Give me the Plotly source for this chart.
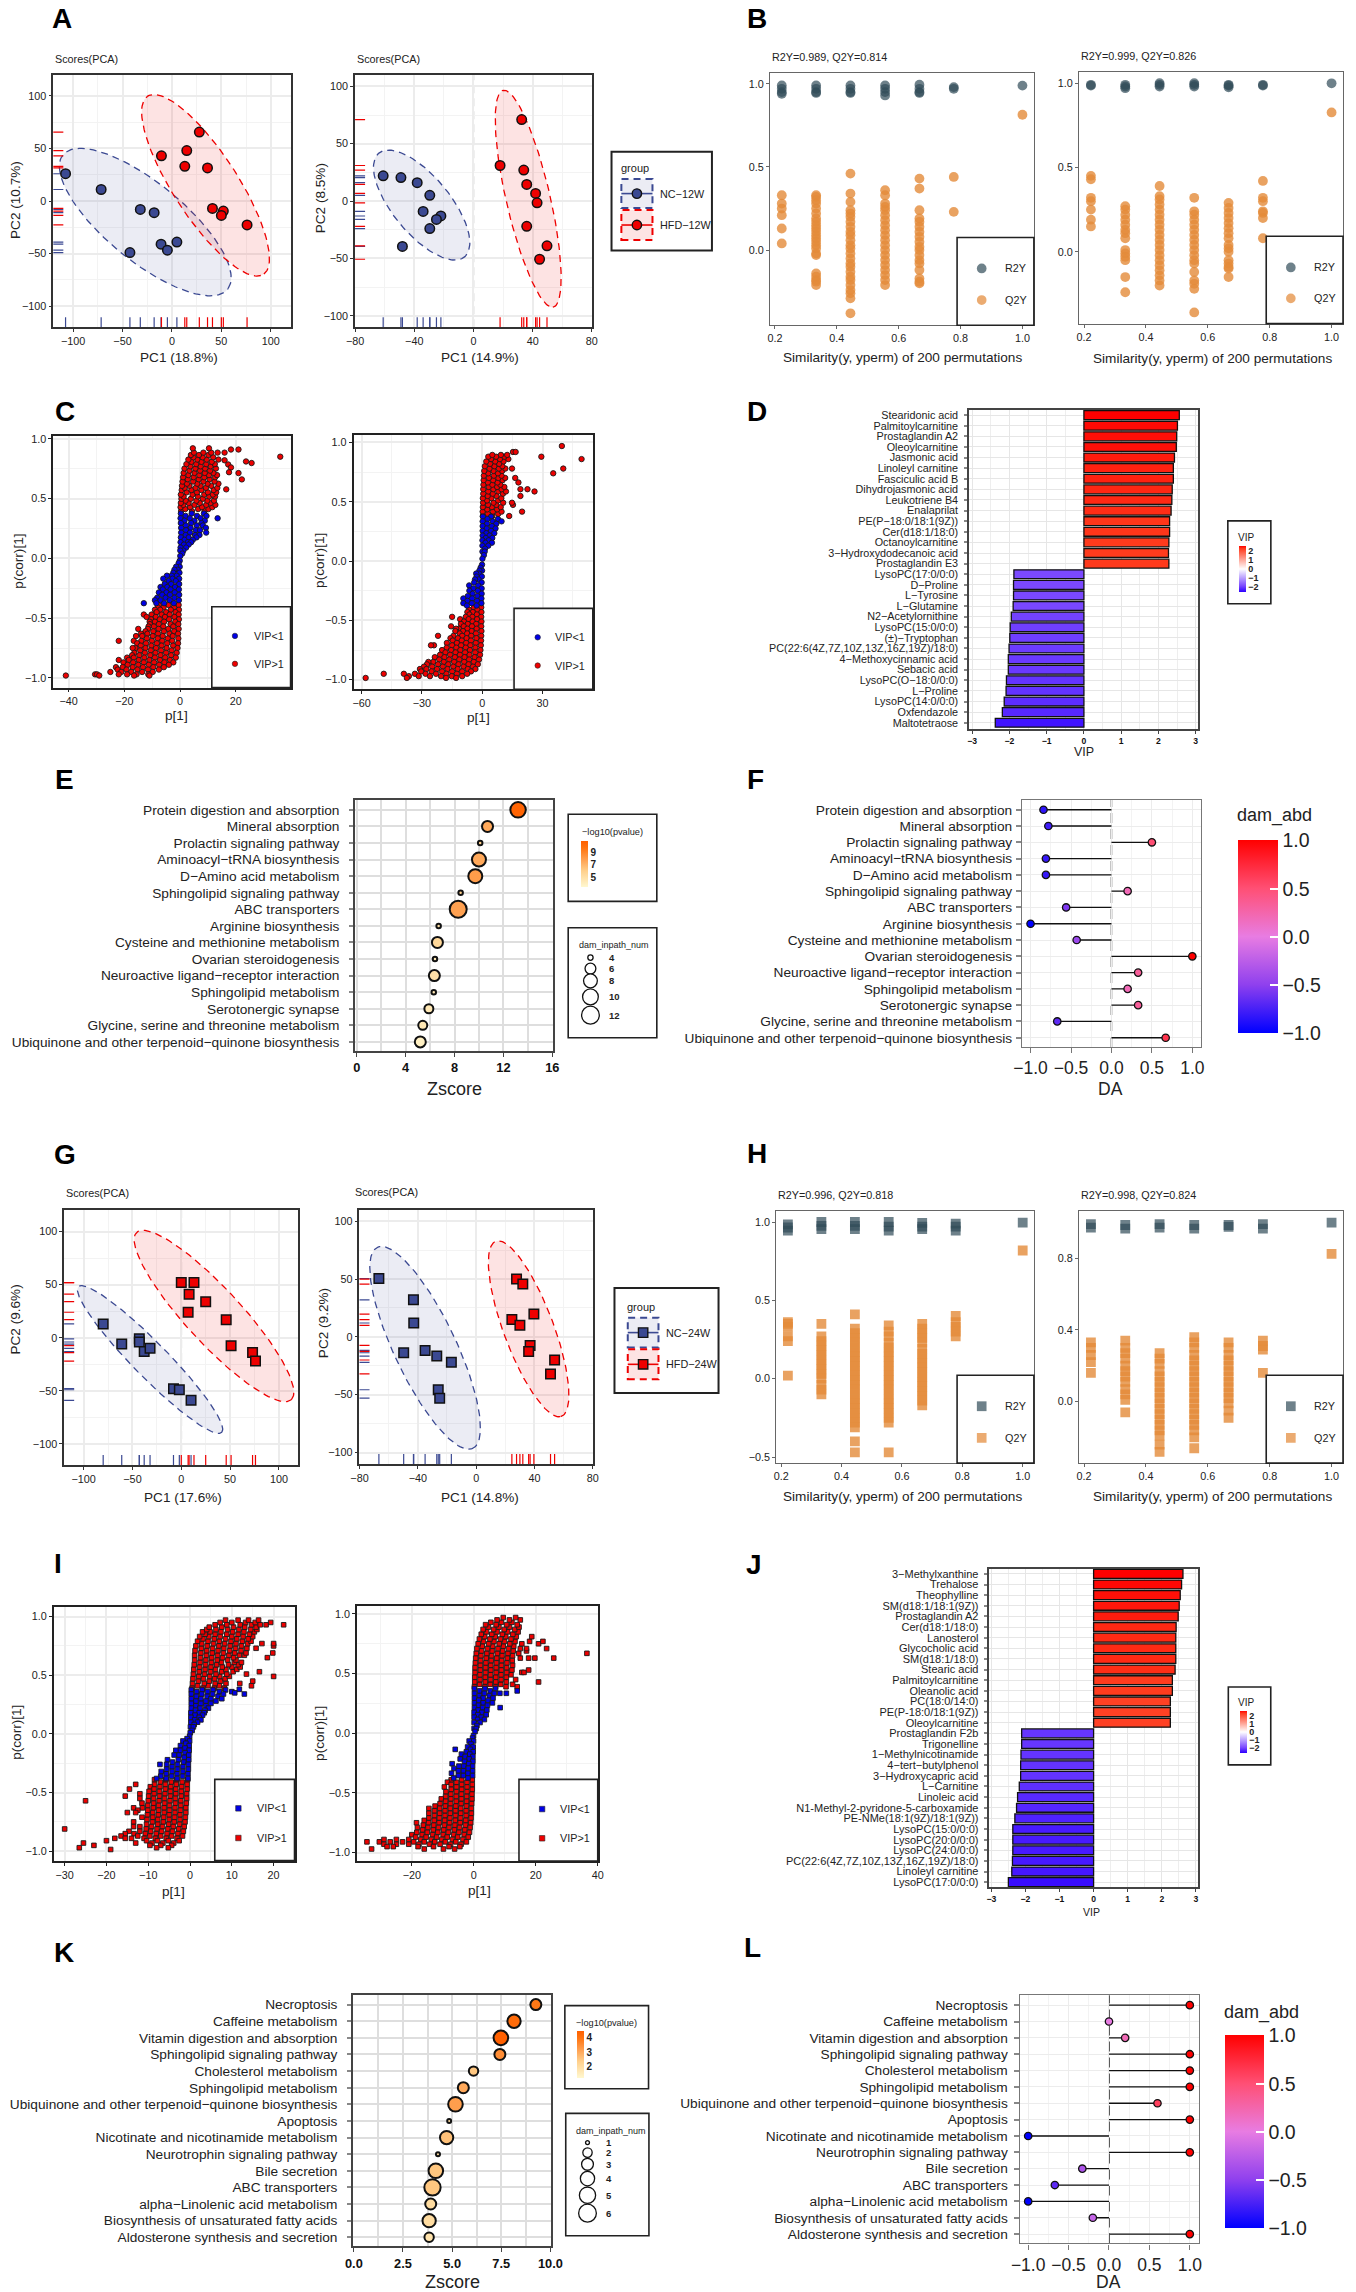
import numpy as np
import plotly.graph_objects as go

W, H = 1356, 2292
FONT = "Liberation Sans"
BLUE, RED = "#3b4992", "#ee0000"

# ---------- PCA scores ----------
A1_NC_X = [-107.6, -71.6, -32, -18, -42.5, -11, -4.6, 5]
A1_NC_Y = [26, 11, -8, -11, -49, -41, -46.7, -39]
A1_HFD_X = [27.7, 15, -10.6, 13, 36, 41, 52, 50, 76]
A1_HFD_Y = [65.6, 48, 43, 33, 31.5, -7, -9.5, -13.6, -22.7]
A2_NC_X = [-61, -49, -38, -29.5, -34, -22, -25, -29.5, -48]
A2_NC_Y = [22, 20.5, 16, 5, -9, -13, -16, -24, -39.5]
A2_HFD_X = [32.6, 18, 34, 36, 42, 43, 36, 49.7, 44.7]
A2_HFD_Y = [71, 31, 27, 14.5, 6.7, -1.5, -22, -39, -50.7]
G1_NC_X = [-80, -61, -43, -43, -38, -32, -8, -2, 10]
G1_NC_Y = [13, -6, -1, -4, -13, -10, -48, -49, -59]
G1_HFD_X = [0, 13, 8, 25, 7, 46, 51, 73, 76]
G1_HFD_Y = [52, 52, 41, 34, 24, 17, -7.5, -14, -22]
G2_NC_X = [-66.7, -43, -42.8, -49.7, -35, -27, -17, -26, -25]
G2_NC_Y = [50.5, 32, 12, -13.7, -11.7, -16.6, -22, -45.7, -53]
G2_HFD_X = [27.7, 32, 39.6, 24.5, 30, 37, 36, 53.8, 51]
G2_HFD_Y = [50, 45.7, 19.7, 15, 10, -7.4, -12.6, -20, -32]
# centre x, centre y, semi-major, semi-minor, angle (deg)
A1_NC_ELL = (-27, -20, 105, 38, -37)
A1_HFD_ELL = (34, 15, 103, 32, -55)
A2_NC_ELL = (-35, -3.5, 54, 21, -60)
A2_HFD_ELL = (37, 2, 96, 15, -80)
G1_NC_ELL = (-32, -20.5, 100.5, 17, -43)
G1_HFD_ELL = (33.5, 20.5, 111.7, 27, -44.6)
G2_NC_ELL = (-35, -9.5, 93, 22, -70)
G2_HFD_ELL = (36, 7, 79, 17.5, -73.9)

# ---------- permutation tests ----------
PERM_SIM = [0.222, 0.333, 0.444, 0.556, 0.667, 0.778, 1.0]
B1_R2Y = [[.99, .97, .95, .94], [.99, .97, .95, .945], [.99, .97, .95, .945], [.99, .97, .95, .93], [.995, .97, .95, .945], [.98, .97], [.989]]
B1_Q2Y = [[.33, .28, .25, .21, .13, .04],
          [.33, .32, .30, .28, .25, .22, .19, .17, .15, .13, .11, .09, .07, .05, .03, .01, -.02, -.03, -.14, -.16, -.18, -.19, -.21],
          [.46, .34, .29, .24, .22, .20, .17, .14, .11, .09, .06, .03, .01, -.02, -.05, -.08, -.10, -.13, -.16, -.18, -.21, -.24, -.26, -.29, -.38],
          [.36, .33, .28, .26, .24, .21, .18, .15, .12, .09, .06, .03, 0, -.03, -.06, -.09, -.12, -.15, -.18, -.21],
          [.43, .37, .24, .19, .17, .14, .11, .08, .05, .02, 0, -.03, -.06, -.08, -.12, -.17, -.19, -.2],
          [.44, .23], [.814]]
B2_R2Y = [[.99, .985], [.99, .97, .98], [1.0, .98, .99], [1.0, .98, .99], [.99, .975, .985], [.99, .985], [.999]]
B2_Q2Y = [[.45, .43, .32, .30, .25, .19, .15],
          [.27, .25, .22, .19, .16, .13, .11, .08, .01, -.01, -.03, -.05, -.15, -.24],
          [.39, .33, .31, .28, .25, .22, .19, .16, .13, .10, .07, .04, .01, -.02, -.05, -.08, -.11, -.14, -.17, -.20],
          [.32, .24, .22, .19, .16, .13, .10, .07, .04, .01, -.02, -.05, -.07, -.12, -.17, -.19, -.22, -.36],
          [.29, .26, .23, .20, .17, .14, .11, .08, .04, .02, 0, -.05, -.07, -.09, -.10, -.15],
          [.42, .32, .30, .24, .23, .20, .08], [.826]]
H1_R2Y = [[.985, .965, .945], [1.0, .975, .955], [1.0, .975, .955], [1.0, .97, .945], [.995, .97, .955], [.99, .97, .945], [.996]]
H1_Q2Y = [[.36, .35, .33, .27, .24, .02],
          [.35, .27, .24, .21, .18, .15, .12, .09, .06, .03, 0, -.04, -.07, -.1],
          [.41, .32, .29, .26, .23, .20, .17, .14, .11, .08, .05, .02, -.01, -.04, -.07, -.10, -.13, -.16, -.19, -.22, -.25, -.28, -.31, -.40, -.47],
          [.34, .30, .27, .23, .20, .17, .14, .11, .08, .05, .02, -.01, -.04, -.07, -.10, -.13, -.16, -.19, -.22, -.25, -.28, -.47],
          [.35, .32, .29, .26, .23, .19, .16, .13, .10, .07, .04, .01, -.02, -.05, -.08, -.11, -.14, -.17],
          [.40, .36, .33, .30, .27], [.818]]
H2_R2Y = [[.99, .97], [.985, .965], [.99, .97], [.985, .965], [.985, .975], [.99, .965], [.998]]
H2_Q2Y = [[.33, .30, .26, .22, .16],
          [.34, .30, .27, .24, .2, .17, .14, .11, .07, .04, .01, -.06],
          [.27, .24, .21, .17, .14, .11, .08, .05, .02, -.01, -.04, -.07, -.10, -.13, -.16, -.19, -.24, -.28],
          [.36, .33, .30, .26, .23, .2, .17, .14, .11, .08, .05, .02, -.01, -.04, -.07, -.10, -.13, -.16, -.2, -.26],
          [.33, .30, .26, .23, .2, .17, .14, .11, .08, .05, .02, -.01, -.05, -.09],
          [.34, .31, .29, .16], [.824]]

# ---------- S-plots: rows of (p(corr), [p values]) ----------
C1_RED = [(.395, [.4, 4.3, 8.8]), (.412, [1.9, 6.5, 10.2]), (.428, [.2, 3.6, 7.9, 11.6]), (.447, [1.2, 5.2, 9.4, 12.7]), (.463, [.3, 3.1, 7.1, 11]),
          (.482, [2, 5.9, 9.8, 12.2]), (.498, [.5, 3.9, 8.2]), (.517, [1.3, 6.4, 10.5, 12.6]), (.533, [.3, 4.5, 8.7, 11.8]), (.552, [2.4, 6.1, 10, 13]),
          (.571, [.6, 4.1, 7.7, 12.1]), (.589, [1.7, 5.6, 9.3, 13.4]), (.606, [.7, 3.4, 7.4, 11.2]), (.624, [2.5, 6.2, 9.9, 13.8]), (.642, [.9, 4.7, 8.4, 12.4]),
          (.661, [2.8, 6.7, 10.6]), (.678, [1.1, 4.9, 8.7, 12.6]), (.696, [3, 6.9, 10.4, 13.3]), (.714, [1.3, 5.2, 8.9, 12]), (.733, [3.4, 7.2, 10.8]),
          (.751, [1.6, 5.5, 9, 12.9]), (.769, [3.7, 7.4, 11]), (.788, [2.3, 5.8, 9.4, 12.5]), (.807, [4.1, 7.7, 11.4]), (.826, [3, 6.2, 9.6, 13.8]),
          (.845, [4.8, 8.1, 11.9]), (.864, [3.9, 6.8, 10.2]), (.884, [5, 8.4, 11.2, 13.5, 16]),
          (.92, [4.6, 10.4]), (.91, [18.3, 21]), (.82, [16]), (.785, [17.3]), (.76, [18.3]), (.72, [17.6]), (.713, [21]), (.66, [22.2]), (.577, [16.6]),
          (.81, [23.7]), (.797, [25.7]), (.85, [36]),
          (-.39, [-.5, -4.1, -7.6]), (-.41, [-2.2, -5.9, -8]), (-.43, [-.4, -3.3, -7.1, -9]), (-.45, [-1.6, -5, -8.4]), (-.47, [-.5, -3.7, -6.6, -10.2, -13]),
          (-.49, [-2, -5.4, -8.7, -12]), (-.51, [-.4, -3.9, -7.3, -10.4]), (-.53, [-1.7, -5.7, -9, -10.9]), (-.55, [-.6, -3.4, -7.6, -10.8]),
          (-.57, [-2.4, -6, -9.4, -11.3]), (-.59, [-.5, -4.2, -7.7, -11.5, -15]), (-.61, [-2.1, -5.8, -9.6, -12.4]), (-.63, [-.7, -3.8, -7.9, -11.7, -14]),
          (-.65, [-2.6, -6.2, -9.8, -13.6, -15.8]), (-.67, [-.6, -4.4, -8, -11.9]), (-.69, [-2.8, -6.4, -10.1, -13.9, -16.6, -22]), (-.71, [-.7, -4.6, -8.3, -12.2, -15.4]),
          (-.73, [-2.5, -6.6, -10.3, -14.1]), (-.75, [-.9, -4.8, -8.6, -12.4, -16, -17]), (-.77, [-3, -6.8, -10.5, -14.3]), (-.79, [-1.2, -5, -8.8, -12.6, -16.4]),
          (-.81, [-3.2, -7, -10.7, -14.6, -17.2]), (-.83, [-1.5, -5.3, -9, -12.8, -16.6, -19]), (-.85, [-3.6, -7.2, -11, -14.8, -18.4, -22]),
          (-.87, [-2.4, -5.6, -9.3, -13, -16.8, -20.3]), (-.89, [-4, -7.5, -11.2, -15, -18.8]), (-.91, [-5.8, -9.6, -13.3, -17, -20.6, -23]),
          (-.93, [-7.6, -11.5, -15.3, -19.2, -22.4]), (-.95, [-9.8, -13.6, -17.5, -21.1, -25]), (-.97, [-11.4, -15.6, -19, -22, -30.5, -29.8]), (-.98, [-41, -29, -16.5, -11])]
C1_BLUE = [(.375, [.3, 4.2, 8.6]), (.355, [2, 6.1, 9.5]), (.335, [.2, 3.5, 7.4, 13.5]), (.315, [1.6, 5.2, 8.9]), (.295, [.3, 4, 7.7]), (.275, [2.1, 6, 8.2]),
           (.255, [.4, 3.8, 9.3]), (.235, [2.2, 5.7, 7.2]), (.215, [.4, 3.6, 9.4]), (.195, [2, 5.4, 7]), (.175, [.3, 3.1, 5.9]), (.155, [1.6, 4.6]), (.135, [.2, 2.8, 4]),
           (.115, [1.4, 3.1]), (.09, [.2, 2.2]), (.065, [1.2, .1]), (.04, [.8]), (.02, [.1]), (-.02, [-.1]), (-.04, [-.5]), (-.07, [-.1, -1.4]), (-.095, [-.8, -2]),
           (-.12, [-.2, -2.4]), (-.145, [-1.2, -3, -4.7]), (-.17, [-.3, -2.7, -6]), (-.19, [-1.5, -4.1]), (-.215, [-.3, -3.2, -5.5]), (-.24, [-1.8, -4.6, -7]),
           (-.26, [-.4, -3.4, -6.2]), (-.285, [-1.9, -4.9, -7.6]), (-.305, [-.3, -3.6, -6.4]), (-.33, [-2, -5.2, -8.2]), (-.35, [-.4, -3.7, -7, -9]), (-.375, [-2.2, -5.7, -8.5, -13])]
C2_RED = [(.38, [.3, 5, 13.4]), (.398, [2.8, 7.9]), (.417, [.2, 5.3, 9.6, 19.8]), (.436, [2.5, 7.4]), (.455, [.3, 4.8, 9.2]), (.474, [2.9, 7, 15.3]),
          (.492, [.4, 5.6, 10.4, 14.8]), (.511, [2.4, 7.9]), (.53, [.3, 4.6, 9.5]), (.549, [2.7, 7.1, 19]), (.568, [.5, 5.2, 10.3]), (.587, [3, 8, 11.8, 26]),
          (.606, [.5, 5.5, 9.6, 22.5, 19]), (.625, [3.2, 7.4, 11]), (.644, [.6, 5, 9]), (.663, [2.8, 7.6, 18]), (.682, [.7, 5.4, 10.1]), (.701, [3.3, 8, 11.4, 16.4]),
          (.72, [.8, 5.8, 9.6]), (.74, [3, 7.8, 35.3]), (.76, [1, 5.6, 9.9]), (.78, [3.6, 8.3, 11.5, 14.8, 40.3]), (.8, [1.3, 6, 10]), (.82, [3.9, 8.4]),
          (.84, [2, 6.4, 10.6]), (.86, [4.4, 8.8, 13, 49.4]), (.88, [3, 6.9, 11, 29.4]), (.895, [5, 9.3, 12.4]), (.92, [15.3, 16.6]), (.97, [39.6]),
          (-.39, [-.5, -4.2]), (-.41, [-2.4, -6.6]), (-.43, [-.4, -4.7, -7.4]), (-.45, [-2.7, -6.4]), (-.47, [-.5, -4.9, -8.2, -15]), (-.49, [-2.6, -6.8, -11]),
          (-.51, [-.4, -4.8, -9.1]), (-.53, [-3, -7.2, -10.6]), (-.55, [-.5, -5.1, -9.2, -15.5]), (-.57, [-2.8, -7.4, -11.6, -13]), (-.59, [-.4, -5.3, -9.6, -13.4]),
          (-.61, [-3.1, -7.5, -11.2]), (-.63, [-.5, -5.5, -10, -14.3, -22]), (-.65, [-2.9, -7.8, -12.1, -15.8]), (-.67, [-.6, -5.6, -10.2, -14.7]),
          (-.69, [-3.2, -8, -12.6, -17.6]), (-.71, [-.7, -5.9, -10.5, -15, -24, -25.5]), (-.73, [-3.4, -8.2, -12.9, -17.7]), (-.75, [-.9, -6.1, -10.9, -15.5, -20]),
          (-.77, [-3.5, -8.5, -13.3, -18.3]), (-.79, [-1.1, -6.3, -11.1, -16, -21]), (-.81, [-3.8, -8.8, -13.6, -18.8, -23.6]), (-.83, [-1.6, -6.5, -11.4, -16.4, -21.4]),
          (-.85, [-4.2, -9, -14, -19.1, -24.4, -26.8]), (-.87, [-2.2, -6.8, -11.8, -16.9, -22, -27.5]), (-.89, [-4.6, -9.3, -14.4, -19.6, -24.9, -29]),
          (-.91, [-3.4, -7.2, -12.2, -17.3, -22.5, -27.8, -31]), (-.93, [-5.6, -10, -15, -20, -25.2, -30.4]), (-.95, [-7.5, -12.6, -17.8, -23, -28.2, -33.5, -39, -49]),
          (-.97, [-10, -15.2, -20.5, -26, -31.6, -36.5]), (-.985, [-58, -37.5, -18, -13])]
C2_BLUE = [(.375, [.3, 4.4]), (.355, [2.6, 7.8]), (.335, [.2, 5.2, 9.6]), (.315, [2.4, 7]), (.295, [.2, 4.8]), (.275, [2.2, 6.6]), (.255, [.2, 4.4]), (.235, [2, 6]),
           (.215, [.2, 3.6]), (.195, [1.8, 5]), (.175, [.1, 3.2]), (.155, [1.6, 4.8]), (.13, [.1, 3]), (.105, [1.4]), (.08, [.1, 1.2]), (.05, [.8]), (.02, [.1]),
           (-.03, [-.1]), (-.055, [-.8]), (-.08, [-.1, -1.4]), (-.105, [-1.6, -3]), (-.13, [-.2, -2.8]), (-.155, [-1.8, -3.6]), (-.18, [-.3, -4]), (-.205, [-2, -6.5]),
           (-.23, [-.3, -4.4]), (-.25, [-2.2, -6.4]), (-.275, [-.3, -4.8]), (-.295, [-2.4, -7.2]), (-.315, [-.4, -5, -9.4]), (-.335, [-2.6, -7.4]), (-.355, [-.4, -5.2, -9.4]), (-.375, [-2.8, -7.6])]
I1_RED = [(.39, [.5, 3.1, 5.8, 8.2]), (.41, [1.8, 4.3, 7, 14.7]), (.43, [.6, 3.4, 6, 8.6, 11.9]), (.45, [2, 4.6, 7.3, 15]), (.47, [.7, 3.2, 5.9, 8.4]), (.49, [2.1, 4.7, 7.1, 9.4, 20]),
          (.51, [.8, 3.5, 6.2, 8.8, 13.5]), (.53, [2.2, 4.9, 7.6, 10.3, 16.6]), (.55, [.9, 3.6, 6.1, 8.6, 11.2]), (.57, [2.3, 5, 7.7, 10, 12]), (.59, [1, 3.7, 6.4, 9.2, 11.5]),
          (.61, [2.4, 5.1, 7.5, 10.6, 12.3]), (.63, [1.1, 3.8, 6.5, 9, 11]), (.65, [2.5, 5.2, 7.8, 10.4, 18.5]), (.67, [1.1, 3.9, 6.6, 9.3, 11.8, 13]), (.69, [2.6, 5.3, 8, 10.7, 13.4, 19.8]),
          (.71, [1.2, 4, 6.7, 9.5, 12.2]), (.73, [2.7, 5.4, 8.1, 10.9, 13.6, 15.8]), (.75, [1.4, 4.1, 6.9, 9.6, 12.3, 20]), (.77, [2.8, 5.6, 8.3, 11, 13.8, 17.2, 20]),
          (.79, [1.8, 4.3, 7, 9.8, 12.5, 14.6]), (.81, [3.1, 5.8, 8.5, 11.2, 13.9]), (.83, [2.3, 4.5, 7.2, 10, 12.7, 15]), (.85, [3.6, 6, 8.8, 11.5, 14.2]), (.87, [3, 4.8, 7.4, 10.2, 12.9, 15.4]),
          (.89, [4, 6.2, 9, 11.7, 14.5, 16]), (.91, [4.6, 7.6, 10.4, 13.1, 15.8]), (.93, [6, 8.8, 12, 14.7, 16.8, 18.2, 22.4]), (.95, [7.2, 10, 13.3, 15.6, 19.3]), (.97, [8.5, 11.5, 14, 16.4]),
          (-.39, [-.6, -3.2, -5.8, -8.5]), (-.41, [-1.9, -4.5, -7.1]), (-.43, [-.7, -3.3, -5.9, -8.5, -13]), (-.45, [-2, -4.6, -7.2, -9.5]), (-.47, [-.7, -3.4, -5.9, -8.6, -14.5]),
          (-.49, [-2.1, -4.7, -7.3, -9.8]), (-.51, [-.8, -3.4, -6, -8.6, -12]), (-.53, [-2.1, -4.7, -7.3, -9.9, -15.5]), (-.55, [-.8, -3.5, -6.1, -8.7, -12]), (-.57, [-2.2, -4.8, -7.4, -10, -25]),
          (-.59, [-.9, -3.5, -6.1, -8.7, -11.5]), (-.61, [-2.2, -4.9, -7.5, -10.1]), (-.63, [-1, -3.6, -6.2, -8.8, -11.4, -13.5]), (-.65, [-2.3, -4.9, -7.5, -10.1, -12.5]),
          (-.67, [-1, -3.6, -6.2, -8.9, -13, -15]), (-.69, [-2.4, -5, -7.6, -10.2]), (-.71, [-1.1, -3.7, -6.3, -8.9, -11.5]), (-.73, [-2.4, -5, -7.7, -10.3]), (-.75, [-1.2, -3.8, -6.4, -9, -13.5]),
          (-.77, [-2.5, -5.1, -7.7, -10.4]), (-.79, [-1.4, -4, -6.6, -9.2, -12, -13.5]), (-.81, [-2.7, -5.3, -7.9, -10.5, -30]), (-.83, [-1.6, -4.2, -6.8, -9.4, -12, -14.6]),
          (-.85, [-2.9, -5.5, -8.1, -10.7, -13.4, -15.5]), (-.87, [-1.8, -4.4, -7, -9.6, -12.5, -16.5]), (-.89, [-3.1, -5.7, -8.3, -11, -14, -15.5, -18]), (-.91, [-2.6, -5.2, -7.8, -10.4, -20]),
          (-.93, [-3.9, -6.5, -9.1, -13, -25.5]), (-.95, [-4.4, -7, -9.6, -23]), (-.97, [-5.2, -8, -26.5]), (-.985, [-19])]
I1_BLUE = [(.375, [.3, 2.9, 5.5, 8.5]), (.38, [11.8]), (.36, [1.6, 4.2, 7, 10]), (.34, [.3, 2.8, 5.4, 8, 13]), (.35, [10.7]), (.32, [1.5, 4.1, 6.7]), (.3, [.3, 2.6, 5, 7.6]), (.28, [1.4, 3.8, 6.2]),
           (.26, [.3, 2.6, 5]), (.24, [1.4, 3.8]), (.22, [.3, 2.4, 4.4]), (.2, [1.3, 3.6]), (.18, [.2, 2.2, 3.4]), (.16, [1.2, 3]), (.14, [.2, 2.2]), (.12, [1.1, 2.6]), (.1, [.2, 1.8]), (.08, [1]),
           (.06, [.1, .8]), (.03, [.5]), (.01, [.05]), (-.02, [-.1]), (-.04, [-.7]), (-.06, [-.1, -1.7]), (-.08, [-1]), (-.10, [-.2, -2.3]), (-.12, [-1.2]), (-.14, [-.2, -2.4, -3.4]), (-.16, [-1.2]),
           (-.18, [-.3, -2.6, -3.8]), (-.2, [-1.4]), (-.22, [-.3, -2.8, -5.4]), (-.24, [-1.5, -4.2]), (-.26, [-.4, -3, -5.6, -7.2]), (-.28, [-1.7, -4.3]), (-.30, [-.4, -3, -5.6]), (-.32, [-1.7, -4.3, -6.9]),
           (-.34, [-.5, -3.1, -5.7]), (-.36, [-1.8, -4.4, -7]), (-.38, [-.5, -3.1, -5.7, -8])]
I2_RED = [(.39, [.2, 3.6, 7, 10.4, 14]), (.41, [1.9, 5.3, 8.7, 12.5]), (.43, [.3, 3.7, 7.1, 10.5, 20.9]), (.45, [2, 5.4, 8.8, 13.5]), (.47, [.3, 3.7, 7.1, 10.5]), (.49, [2, 5.4, 8.8, 12]),
          (.51, [.4, 3.8, 7.2, 10.6, 15.5, 16.2]), (.53, [2.1, 5.5, 8.9, 12.3, 17.7]), (.55, [.4, 3.8, 7.2, 10.6]), (.57, [2.1, 5.5, 8.9, 12.5]), (.59, [.5, 3.9, 7.3, 10.7]), (.61, [2.2, 5.6, 9, 12.4]),
          (.63, [.6, 4, 7.4, 10.8, 15, 17.7, 19.7, 25.8]), (.65, [2.3, 5.7, 9.1, 12.5]), (.67, [.8, 4.2, 7.6, 11, 14.5, 36.5]), (.69, [2.5, 5.9, 9.3, 12.7, 17]), (.71, [1, 4.4, 7.8, 11.2, 15, 17, 23.5]),
          (.73, [2.7, 6.1, 9.5, 12.9]), (.75, [1.4, 4.8, 8.2, 11.6, 15.5, 20.9]), (.77, [3.1, 6.5, 9.9, 13.3, 18, 22.3]), (.79, [1.8, 5.2, 8.6, 12]), (.81, [3.5, 6.9, 10.3, 13.7, 18.7]),
          (.83, [2.4, 5.8, 9.2, 12.6]), (.85, [4.1, 7.5, 10.9, 14.3]), (.87, [3, 6.4, 9.8, 13.2]), (.89, [4.7, 8.1, 11.5, 14.6]), (.91, [3.8, 7.2, 10.6, 14]), (.93, [5.5, 8.9, 12.3]), (.95, [7.5, 11.5, 15]), (.97, [9.5, 13.5]),
          (-.39, [-.5, -3.9, -7.3]), (-.41, [-2.2, -5.6, -8.5]), (-.43, [-.5, -3.9, -7.3]), (-.45, [-2.2, -5.6, -9.5]), (-.47, [-.5, -3.9, -7.3]), (-.49, [-2.2, -5.6, -9]), (-.51, [-.6, -4, -7.4]),
          (-.53, [-2.3, -5.7, -9.1]), (-.55, [-.6, -4, -7.4, -10.5]), (-.57, [-2.3, -5.7, -9.1]), (-.59, [-.7, -4.1, -7.5, -10.9]), (-.61, [-2.4, -5.8, -9.2, -12.5]), (-.63, [-.8, -4.2, -7.6, -11, -14.5]),
          (-.65, [-2.5, -5.9, -9.3, -12.7]), (-.67, [-.8, -4.2, -7.6, -11, -14.5]), (-.69, [-2.5, -5.9, -9.3, -12.7]), (-.71, [-.9, -4.3, -7.7, -11.1, -14.5]), (-.73, [-2.6, -6, -9.4, -12.8, -16]),
          (-.75, [-1, -4.4, -7.8, -11.2, -14.6, -18.5]), (-.77, [-2.7, -6.1, -9.5, -12.9, -16.3]), (-.79, [-1.2, -4.6, -8, -11.4, -14.8, -18.2]), (-.81, [-2.9, -6.3, -9.7, -13.1, -16.5]),
          (-.83, [-1.4, -4.8, -8.2, -11.6, -15, -18.4]), (-.85, [-3.1, -6.5, -9.9, -13.3, -16.7, -20]), (-.87, [-1.8, -5.2, -8.6, -12, -15.4, -18.8]), (-.89, [-3.5, -6.9, -10.3, -13.7, -17.1, -21, -25, -29]),
          (-.91, [-2.4, -5.8, -9.2, -12.6, -16, -19.4, -23, -27, -30.5, -34.5]), (-.93, [-4.1, -7.5, -10.9, -14.3, -17.7, -21, -25, -29]), (-.95, [-4.5, -8, -13, -18, -26, -28]), (-.97, [-6.2, -9.8, -16, -33])]
I2_BLUE = [(.375, [.2, 3.6, 7]), (.355, [1.9, 5.3, 14]), (.335, [.2, 3.4, 6.6, 8.4, 10.5]), (.315, [1.8, 5]), (.295, [.2, 3, 6.2]), (.275, [1.6, 4.6]), (.255, [.2, 3, 6]), (.235, [1.5, 4.4]),
           (.215, [.2, 2.8, 8.5]), (.195, [1.4, 4.2]), (.175, [.1, 2.6]), (.155, [1.3, 4]), (.135, [.1, 2.4]), (.115, [1.2, 3.4]), (.09, [.1, 2]), (.065, [1]), (.04, [.1, .8]), (.015, [.4]),
           (-.02, [-.1]), (-.04, [-.4]), (-.065, [-.1, -1.5]), (-.09, [-.9]), (-.115, [-.2, -2]), (-.135, [-1.1, -6]), (-.155, [-.2, -2.4]), (-.175, [-1.3, -4]), (-.195, [-.3, -2.8]), (-.215, [-1.5, -4.4]),
           (-.235, [-.3, -3]), (-.255, [-1.6, -7]), (-.275, [-.4, -3.2, -4.8]), (-.295, [-1.8, -6.4]), (-.315, [-.4, -3.4, -5]), (-.335, [-1.9, -7.2]), (-.355, [-.4, -3.4, -5]), (-.375, [-1.9, -6.5])]

# ---------- VIP bars ----------
D_NAMES = ["Stearidonic acid", "Palmitoylcarnitine", "Prostaglandin A2", "Oleoylcarnitine", "Jasmonic acid", "Linoleyl carnitine",
           "Fasciculic acid B", "Dihydrojasmonic acid", "Leukotriene B4", "Enalaprilat", "PE(P−18:0/18:1(9Z))", "Cer(d18:1/18:0)",
           "Octanoylcarnitine", "3−Hydroxydodecanoic acid", "Prostaglandin E3", "LysoPC(17:0/0:0)", "D−Proline", "L−Tyrosine", "L−Glutamine",
           "N2−Acetylornithine", "LysoPC(15:0/0:0)", "(±)−Tryptophan", "PC(22:6(4Z,7Z,10Z,13Z,16Z,19Z)/18:0)", "4−Methoxycinnamic acid",
           "Sebacic acid", "LysoPC(O−18:0/0:0)", "L−Proline", "LysoPC(14:0/0:0)", "Oxfendazole", "Maltotetraose"]
D_VIP = [2.56, 2.51, 2.49, 2.48, 2.43, 2.40, 2.40, 2.37, 2.36, 2.34, 2.30, 2.30, 2.28, 2.27, 2.28,
         -1.88, -1.89, -1.89, -1.90, -1.95, -1.98, -1.99, -2.01, -2.03, -2.03, -2.08, -2.09, -2.14, -2.19, -2.38]
J_NAMES = ["3−Methylxanthine", "Trehalose", "Theophylline", "SM(d18:1/18:1(9Z))", "Prostaglandin A2", "Cer(d18:1/18:0)", "Lanosterol",
           "Glycocholic acid", "SM(d18:1/18:0)", "Stearic acid", "Palmitoylcarnitine", "Oleanolic acid", "PC(18:0/14:0)", "PE(P-18:0/18:1(9Z))",
           "Oleoylcarnitine", "Prostaglandin F2b", "Trigonelline", "1−Methylnicotinamide", "4−tert−butylphenol", "3−Hydroxycapric acid",
           "L−Carnitine", "Linoleic acid", "N1-Methyl-2-pyridone-5-carboxamide", "PE-NMe(18:1(9Z)/18:1(9Z))", "LysoPC(15:0/0:0)",
           "LysoPC(20:0/0:0)", "LysoPC(24:0/0:0)", "PC(22:6(4Z,7Z,10Z,13Z,16Z,19Z)/18:0)", "Linoleyl carnitine", "LysoPC(17:0/0:0)"]
J_VIP = [2.62, 2.58, 2.54, 2.51, 2.48, 2.42, 2.41, 2.41, 2.41, 2.39, 2.31, 2.31, 2.25, 2.25, 2.25,
         -2.11, -2.11, -2.13, -2.14, -2.14, -2.18, -2.23, -2.26, -2.31, -2.37, -2.37, -2.37, -2.38, -2.40, -2.50]

# ---------- pathway enrichment ----------
E_PATH = ["Protein digestion and absorption", "Mineral absorption", "Prolactin signaling pathway", "Aminoacyl−tRNA biosynthesis",
          "D−Amino acid metabolism", "Sphingolipid signaling pathway", "ABC transporters", "Arginine biosynthesis",
          "Cysteine and methionine metabolism", "Ovarian steroidogenesis", "Neuroactive ligand−receptor interaction",
          "Sphingolipid metabolism", "Serotonergic synapse", "Glycine, serine and threonine metabolism",
          "Ubiquinone and other terpenoid−quinone biosynthesis"]
E_Z = [13.2, 10.7, 10.1, 10.0, 9.7, 8.5, 8.3, 6.7, 6.6, 6.4, 6.35, 6.3, 5.9, 5.4, 5.2]
E_NUM = [10, 6, 4, 8, 8, 4, 12, 4, 6, 4, 6, 4, 5, 5, 6]
E_LOGP = [10.5, 7.5, 6, 7.5, 8, 6, 7.8, 5, 5.5, 4.5, 5, 4.5, 4.5, 4.5, 4]
F_DA = [-.84, -.78, .5, -.81, -.81, .2, -.56, -1, -.43, 1, .33, .2, .33, -.67, .67]
K_PATH = ["Necroptosis", "Caffeine metabolism", "Vitamin digestion and absorption", "Sphingolipid signaling pathway", "Cholesterol metabolism",
          "Sphingolipid metabolism", "Ubiquinone and other terpenoid−quinone biosynthesis", "Apoptosis", "Nicotinate and nicotinamide metabolism",
          "Neurotrophin signaling pathway", "Bile secretion", "ABC transporters", "alpha−Linolenic acid metabolism",
          "Biosynthesis of unsaturated fatty acids", "Aldosterone synthesis and secretion"]
K_Z = [9.26, 8.15, 7.48, 7.43, 6.09, 5.57, 5.17, 4.85, 4.72, 4.28, 4.17, 4.0, 3.91, 3.83, 3.83]
K_NUM = [3, 4, 5, 3, 2, 3, 5, 1, 4, 1, 5, 6, 3, 4, 2]
K_LOGP = [3.9, 4.2, 4.45, 3.5, 2.5, 3, 3.2, 2, 2.6, 2, 2.5, 2.5, 2, 2, 1.8]
L_DA = [1, 0, .2, 1, 1, 1, .6, 1, -1, 1, -.33, -.67, -1, -.2, 1]

fig = go.Figure()
layout, shapes, notes = {}, [], []
AX = {"n": 1}
def px(x): return x / W
def py(y): return 1 - y / H

def note(x, y, t, size=11, anchor="center", bold=False, color="#222", angle=0):
    notes.append(dict(x=px(x), y=py(y), xref="paper", yref="paper", text=f"<b>{t}</b>" if bold else t, showarrow=False,
                      xanchor=anchor, yanchor="middle", textangle=angle, font=dict(family=FONT, size=size, color=color)))

def panel(box, xr, yr, xt=None, yt=None, xminor=None, yminor=None, grid=None, line="#333", lw=1.6, fs=10.8, bold=False,
          ycat=None, tl=3, stand=0, yfs=None):
    AX["n"] += 1
    i = AX["n"]
    x0, x1, y0, y1 = box
    g = grid or {}
    def ax(dom, rng, tv, minor, anchor):
        d = dict(domain=dom, range=rng, anchor=anchor, showline=True, mirror=True, linecolor=line, linewidth=lw, ticks="outside",
                 ticklen=tl, tickcolor=line, tickwidth=1, zeroline=False, tickfont=dict(family=FONT, size=fs, color="#222"))
        d["tickvals"] = tv
        if g:
            d.update(showgrid=True, gridcolor=g["c"], gridwidth=g["w"])
            if minor:
                d["minor"] = dict(showgrid=True, gridcolor=g.get("mc", g["c"]), gridwidth=g.get("mw", g["w"]), tick0=minor[0], dtick=minor[1], ticks="")
        else:
            d["showgrid"] = False
        return d
    xa = ax([px(x0), px(x1)], xr, xt, xminor, f"y{i}")
    if bold:
        xa["tickfont"] = dict(family=FONT, size=fs, color="#111", weight="bold")
    ya = ax([py(y1), py(y0)], yr, yt, yminor, f"x{i}")
    if ycat is not None:
        ya.update(type="category", categoryorder="array", categoryarray=ycat, ticklabelstandoff=stand, tickmode="array", tickvals=ycat, ticktext=ycat,
                  tickfont=dict(family=FONT, size=yfs, color="#222"), tickcolor="#888", tickwidth=1.5)
    layout[f"xaxis{i}"] = xa
    layout[f"yaxis{i}"] = ya
    return dict(xaxis=f"x{i}", yaxis=f"y{i}")

def flat(rows):
    return [x for y, r in rows for x in r], [y for y, r in rows for _ in r]

def box_shape(x0, y0, x1, y1, fill="white", line="#222", lw=1.6, dash=None):
    shapes.append(dict(type="rect", xref="paper", yref="paper", x0=px(x0), x1=px(x1), y0=py(y1), y1=py(y0), fillcolor=fill,
                       line=dict(color=line, width=lw, dash=dash), layer="above"))

def glyph(cx, cy, d, fill, line="rgba(0,0,0,0)", lw=0, square=False):
    r = d / 2
    shapes.append(dict(type="rect" if square else "circle", xref="paper", yref="paper", x0=px(cx - r), x1=px(cx + r), y0=py(cy + r), y1=py(cy - r),
                       fillcolor=fill, line=dict(color=line, width=lw), layer="above"))

def hvline(ax, axis, v, color, width, dash):
    xr, yr = ax["xaxis"], ax["yaxis"]
    if axis == "x":
        shapes.append(dict(type="line", xref=xr, yref=yr + " domain", x0=v, x1=v, y0=0, y1=1, line=dict(color=color, width=width, dash=dash), layer="below"))
    else:
        shapes.append(dict(type="line", xref=xr + " domain", yref=yr, x0=0, x1=1, y0=v, y1=v, line=dict(color=color, width=width, dash=dash), layer="below"))

def ellipse(p):
    cx, cy, a, b, deg = p
    t = np.linspace(0, 2 * np.pi, 140)
    th = np.radians(deg)
    return cx + a * np.cos(t) * np.cos(th) - b * np.sin(t) * np.sin(th), cy + a * np.cos(t) * np.sin(th) + b * np.sin(t) * np.cos(th)

GRID = dict(c="#ececec", w=1.6, mc="#f3f3f3", mw=0.8)

def pca(box, xr, yr, xt, yt, xminor, yminor, groups, symbol, rgba, dashv):
    a = panel(box, xr, yr, xt, yt, xminor, yminor, GRID)
    hvline(a, "x", 0, "#bdbdbd", 1.6, "8px,5px")
    hvline(a, "y", 0, "#bdbdbd", 1.6, "8px,5px")
    xp = (box[1] - box[0]) / (xr[1] - xr[0])
    yp = (box[3] - box[2]) / (yr[1] - yr[0])
    for (xs, ys, ell, color), fc in zip(groups, rgba):
        ex, ey = ellipse(ell)
        fig.add_trace(go.Scatter(x=ex, y=ey, mode="lines", fill="toself", fillcolor=fc, line=dict(color=color, width=1.3, dash=dashv), hoverinfo="skip", showlegend=False, **a))
    for xs, ys, ell, color in groups:
        fig.add_trace(go.Scatter(x=[xr[0] + 4.5 / xp] * len(ys), y=ys, mode="markers", marker=dict(symbol="line-ew", size=8, line=dict(color=color, width=1.2)), showlegend=False, **a))
        fig.add_trace(go.Scatter(x=xs, y=[yr[0] + 4.5 / yp] * len(xs), mode="markers", marker=dict(symbol="line-ns", size=8, line=dict(color=color, width=1.2)), showlegend=False, **a))
    for xs, ys, ell, color in groups:
        fig.add_trace(go.Scatter(x=xs, y=ys, mode="markers", marker=dict(symbol=symbol, size=9.5, color=color, line=dict(color="#111", width=1.5)), showlegend=False, **a))

FILLS = ["rgba(59,73,146,0.10)", "rgba(238,0,0,0.11)"]
T120 = [-100, -50, 0, 50, 100]
pca((45, 286, 71, 324), [-120, 120], [-120, 120], T120, [-100, -50, 0, 50, 100], (-125, 50), (-125, 50),
    [(A1_NC_X, A1_NC_Y, A1_NC_ELL, BLUE), (A1_HFD_X, A1_HFD_Y, A1_HFD_ELL, RED)], "circle", FILLS, "7px,5px")
pca((351.5, 592, 71, 324), [-80, 80], [-110, 110], [-80, -40, 0, 40, 80], [-100, -50, 0, 50, 100], (-60, 40), (-125, 50),
    [(A2_NC_X, A2_NC_Y, A2_NC_ELL, BLUE), (A2_HFD_X, A2_HFD_Y, A2_HFD_ELL, RED)], "circle", FILLS, "7px,5px")
pca((56, 294, 1209, 1464.3), [-120, 120], [-120, 120], T120, [-100, -50, 0, 50, 100], (-125, 50), (-125, 50),
    [(G1_NC_X, G1_NC_Y, G1_NC_ELL, BLUE), (G1_HFD_X, G1_HFD_Y, G1_HFD_ELL, RED)], "square", FILLS, "7px,5px")
pca((356, 593, 1208.3, 1463.3), [-80, 80], [-110, 110], [-80, -40, 0, 40, 80], [-100, -50, 0, 50, 100], (-60, 40), (-125, 50),
    [(G2_NC_X, G2_NC_Y, G2_NC_ELL, BLUE), (G2_HFD_X, G2_HFD_Y, G2_HFD_ELL, RED)], "square", FILLS, "7px,5px")

def group_legend(box, title_xy, lab_x, key, rows, labels, sq):
    box_shape(*box, lw=2)
    note(*title_xy, "group", size=11)
    kx0, kx1 = key
    cx = (kx0 + kx1) / 2
    for (cy, h), lab, col, fc in zip(rows, labels, [BLUE, RED], FILLS):
        box_shape(kx0, cy - h, kx1, cy + h, fill=fc, line=col, lw=2, dash="7px,5px")
        shapes.append(dict(type="line", xref="paper", yref="paper", x0=px(kx0), x1=px(kx1), y0=py(cy), y1=py(cy), line=dict(color=col, width=1.6), layer="above"))
        glyph(cx, cy, 9.5, col, "#111", 1.4, square=sq)
        note(lab_x, cy, lab, size=10.8, anchor="left")
group_legend((612, 148, 714, 247), (635.5, 164), 658.8, (622, 653.6), [(190, 14.5), (221.5, 15)], ["NC−12W", "HFD−12W"], False)
group_legend((615, 1286.7, 720.7, 1392), (641.5, 1305.7), 665.7, (628.5, 659.7), [(1331.5, 15), (1363.3, 15)], ["NC−24W", "HFD−24W"], True)

def perm(box, yr, yt, r2, q2, symbol, inset, lab_x, gx, gy, sq):
    a = panel(box, [0.184, 1.037], yr, [.2, .4, .6, .8, 1.0], yt, line="#666", lw=1.4)
    layout[a["xaxis"].replace("x", "xaxis")]["tickformat"] = ".1f"
    layout[a["yaxis"].replace("y", "yaxis")]["tickformat"] = ".1f"
    for data, col in ((q2, "rgba(227,139,58,0.8)"), (r2, "rgba(48,76,88,0.7)")):
        xs = [s for s, col_vals in zip(PERM_SIM, data) for _ in col_vals]
        ys = [v for col_vals in data for v in col_vals]
        fig.add_trace(go.Scatter(x=xs, y=ys, mode="markers", marker=dict(symbol=symbol, size=9.8, color=col, line=dict(width=0)), showlegend=False, **a))
    box_shape(*inset)
    glyph(gx, gy[0], 9.8, "rgba(48,76,88,0.7)", square=sq)
    glyph(gx, gy[1], 9.8, "rgba(227,139,58,0.72)", square=sq)
    note(lab_x, gy[0], "R2Y", size=10.8, anchor="left")
    note(lab_x, gy[1], "Q2Y", size=10.8, anchor="left")

perm((773, 1041, 69.3, 322), [-.452, 1.064], [0, .5, 1], B1_R2Y, B1_Q2Y, "circle", (963, 234, 1041, 322), 1009.6, 988, (265, 296.7), False)
perm((1087, 1355, 68.3, 320.3), [-.426, 1.065], [0, .5, 1], B2_R2Y, B2_Q2Y, "circle", (1277, 232.7, 1355, 320.3), 1323, 1302, (264, 295), False)
perm((779.5, 1041, 1210, 1462.3), [-.539, 1.068], [-.5, 0, .5, 1], H1_R2Y, H1_Q2Y, "square", (963, 1374.3, 1041, 1462.3), 1009.6, 988, (1405.3, 1437), True)
perm((1087, 1355, 1210, 1462.3), [-.343, 1.061], [0, .4, .8], H2_R2Y, H2_Q2Y, "square", (1277, 1374.3, 1355, 1462.3), 1323, 1302, (1405.3, 1437), True)

def splot(box, xr, yr, xt, xminor, red, blue, symbol, size, inset, gx, gy, lab_x):
    a = panel(box, xr, yr, xt, [-1, -.5, 0, .5, 1], xminor, (-1.25, .5), GRID, line="#222", lw=1.8)
    layout[a["yaxis"].replace("y", "yaxis")]["tickformat"] = ".1f"
    for rows, col in ((red, "#ee0000"), (blue, "#0000e6")):
        xs, ys = flat(rows)
        fig.add_trace(go.Scatter(x=xs, y=ys, mode="markers", marker=dict(symbol=symbol, size=size, color=col, line=dict(color="#1a1a1a", width=0.9)), showlegend=False, **a))
    box_shape(*inset)
    sq = symbol == "square"
    glyph(gx, gy[0], 5.5, "#0000e6", "#222", .6, square=sq)
    glyph(gx, gy[1], 5.5, "#ee0000", "#222", .6, square=sq)
    note(lab_x, gy[0], "VIP&lt;1", size=10.8, anchor="left")
    note(lab_x, gy[1], "VIP&gt;1", size=10.8, anchor="left")

splot((45, 286, 433.3, 685), [-45.5, 39.7], [-1.08, 1.02], [-40, -20, 0, 20], (-50, 10), C1_RED, C1_BLUE, "circle", 5.4, (206, 604, 286, 685), 229.5, (633.3, 661.3), 246.7)
splot((350, 593, 432.3, 686.7), [-64, 55], [-1.08, 1.06], [-60, -30, 0, 30], (-75, 15), C2_RED, C2_BLUE, "circle", 5.4, (513, 605.7, 593, 686.7), 537, (634.7, 663), 553)
splot((45.5, 290, 1606.7, 1860.7), [-32.6, 25], [-1.08, 1.08], [-30, -20, -10, 0, 10, 20], (-35, 5), I1_RED, I1_BLUE, "square", 4.6, (209, 1779.3, 290, 1860.7), 233, (1808.3, 1838), 250)
splot((353.5, 598, 1605.7, 1861), [-37.7, 40], [-1.07, 1.065], [-20, 0, 20, 40], (-30, 10), I2_RED, I2_BLUE, "square", 4.6, (518, 1779.3, 598, 1861), 541.5, (1809, 1838.3), 558)

def cbar(x0, x1, y0, y1, tv, size, bold=False, ticks="", ticklen=0, fmt=None):
    f = dict(family=FONT, size=size, color="#222")
    if bold:
        f["weight"] = "bold"
    return dict(x=px(x0), xanchor="left", xpad=0, y=py((y0 + y1) / 2), yanchor="middle", ypad=0, len=y1 - y0, lenmode="pixels",
                thickness=x1 - x0, thicknessmode="pixels", outlinewidth=0, tickmode="array", tickvals=tv, ticks=ticks, ticklen=ticklen, tickcolor="white", tickwidth=1.6,
                tickfont=f, tickformat=fmt)

VIP_SCALE = [[0, "#2b00ff"], [0.13, "#7a48ff"], [0.5, "#ffffff"], [0.945, "#ff3a1c"], [1, "#ff0000"]]
def vip(box, names, vals, rng, yfs, stand, inset, tit, bar_box, lim):
    a = panel(box, [-3.08, 3.07], rng, [-3, -2, -1, 0, 1, 2, 3], None, (-3.5, 1), None, dict(c="#e6e6e6", w=1, mc="#eeeeee", mw=.7),
              line="#444", lw=1.8, fs=8.6, bold=True, ycat=names, tl=3, stand=stand, yfs=yfs)
    layout[a["yaxis"].replace("y", "yaxis")].update(showgrid=True, gridcolor="#e6e6e6", gridwidth=1)
    fig.add_trace(go.Bar(x=vals, y=names, orientation="h", width=0.84,
                         marker=dict(color=vals, colorscale=VIP_SCALE, cmin=-lim, cmax=lim, line=dict(color="#111", width=1.3),
                                     colorbar=cbar(*bar_box, [-2, -1, 0, 1, 2], 9, True)), showlegend=False, **a))
    box_shape(*inset)
    note(*tit, "VIP", size=10)
vip((975.3, 1208, 406.7, 726.7), D_NAMES, D_VIP, [29.6, -0.5], 10.8, 4, (1238, 518, 1281.7, 601), (1256.7, 535), (1249.3, 1256, 543.3, 589.3), 2.56)
vip((995, 1208, 1568.3, 1887.3), J_NAMES, J_VIP, [29.47, -0.47], 11, 3, (1238.5, 1686.7, 1281.6, 1764.7), (1256.5, 1702.3), (1250, 1256.5, 1711, 1752.7), 2.62)

LOGP_SCALE = [[0, "#fff8d0"], [0.35, "#ffd08c"], [0.6, "#ffa050"], [0.85, "#ff7410"], [1, "#ff6000"]]
BUBBLE = dict(c="#dedede", w=2.4)
def bubble(box, xr, yr, xt, xminor, names, z, num, logp, size_x, size_px, cmin, cmax, bar, tv, fmt=None):
    a = panel(box, xr, yr, xt, None, xminor, None, BUBBLE, line="#444", lw=1.8, fs=12.8, bold=True, ycat=names, tl=4, stand=7, yfs=13.7)
    layout[a["yaxis"].replace("y", "yaxis")].update(showgrid=True, gridcolor="#dedede", gridwidth=2.4)
    if fmt:
        layout[a["xaxis"].replace("x", "xaxis")]["tickformat"] = fmt
    sizes = np.interp(num, size_x, size_px) - 1.0
    fig.add_trace(go.Scatter(x=z, y=names, mode="markers", marker=dict(size=sizes, opacity=1, color=logp, colorscale=LOGP_SCALE, cmin=cmin, cmax=cmax,
                             line=dict(color="#111", width=2), colorbar=cbar(*bar, tv, 10, True)), showlegend=False, **a))

bubble((351.5, 552.7, 798, 1049.3), [-0.14, 16.07], [14.55, -0.58], [0, 4, 8, 12, 16], (0, 2), E_PATH, E_Z, E_NUM, E_LOGP,
       [4, 5, 6, 8, 10, 12], [5.5, 10, 12, 15, 16.5, 18], 3.5, 10.7, (581, 588, 839, 885.3), [5, 7, 9])
bubble((349.5, 550.7, 1995, 2247.3), [-0.04, 10.04], [14.55, -0.6], [0, 2.5, 5, 7.5, 10], (0, 1.25), K_PATH, K_Z, K_NUM, K_LOGP,
       [1, 2, 3, 4, 5, 6], [5, 10.4, 12, 14.3, 15.6, 17.3], 1.2, 4.46, (577, 584, 2031.7, 2078.3), [2, 3, 4], ".1f")

box_shape(568, 812, 658, 899.3)
note(612.5, 830, "−log10(pvalue)", size=9.2)
box_shape(568, 925.7, 658, 1036)
note(615, 942.7, "dam_inpath_num", size=9)
for cy, d, lab in zip([955.7, 966.7, 979, 995, 1013.3], [5.4, 11, 14, 16, 18], ["4", "6", "8", "10", "12"]):
    glyph(590.6, cy, d, "white", "#111", 1.3)
    note(607, cy, lab, size=9.5, anchor="left", bold=True)
box_shape(564.6, 2006, 649.6, 2089.3)
note(607, 2023.3, "−log10(pvalue)", size=9.2)
box_shape(565.5, 2114, 650, 2236.7)
note(611.5, 2131.7, "dam_inpath_num", size=9)
for cy, d, lab in zip([2143.3, 2153.3, 2165, 2179.3, 2196, 2214], [4, 9.5, 12, 14.5, 16.5, 18], "123456"):
    glyph(587.6, cy, d, "white", "#111", 1.3)
    note(604, cy, lab, size=9.5, anchor="left", bold=True)

DA_SCALE = [[0, "#0000ff"], [0.25, "#8f40ee"], [0.5, "#e87ce2"], [0.75, "#ff4f74"], [1, "#ff0000"]]
def lolli(box, yr, names, vals, bar, stand):
    a = panel(box, [-1.105, 1.11], yr, [-1, -.5, 0, .5, 1], None, (-1.25, .25), None, dict(c="#ececec", w=1.4, mc="#f3f3f3", mw=.8),
              line="#777", lw=1.4, fs=17.5, ycat=names, tl=5, stand=stand, yfs=13.7)
    lay = layout[a["xaxis"].replace("x", "xaxis")]
    lay["tickformat"] = ".1f"
    layout[a["yaxis"].replace("y", "yaxis")].update(showgrid=True, gridcolor="#ececec", gridwidth=1.4)
    hvline(a, "x", 0, "#111", 1.4, "10px,6px")
    sx, sy = [], []
    for n, v in zip(names, vals):
        sx += [0, v, None]
        sy += [n, n, None]
    fig.add_trace(go.Scatter(x=sx, y=sy, mode="lines", line=dict(color="#111", width=1.3), showlegend=False, hoverinfo="skip", **a))
    fig.add_trace(go.Scatter(x=vals, y=names, mode="markers", marker=dict(size=7.4, color=vals, colorscale=DA_SCALE, cmin=-1, cmax=1,
                             line=dict(color="#111", width=1.3), colorbar=cbar(*bar, [-1, -.5, 0, .5, 1], 19.5, False, "inside", 8, ".1f")), showlegend=False, **a))

lolli((1029, 1211, 797.7, 1045.3), [14.57, -0.6], E_PATH, F_DA, (1248, 1288, 838.3, 1031.7), 1)
lolli((1026.6, 1208.4, 1995.7, 2244.3), [14.57, -0.6], K_PATH, L_DA, (1235, 1274, 2036, 2229.3), 3)

# ---------- free text ----------
for x, y, t in [(54, 15, "A"), (760, 15, "B"), (57, 408, "C"), (760, 408, "D"), (56, 777, "E"), (758, 777, "F"), (57, 1153, "G"), (760, 1152, "H"),
                (50, 1563, "I"), (757, 1564, "J"), (56, 1953, "K"), (755, 1948, "L")]:
    note(x, y, t, size=28, bold=True, color="#000")
note(45, 55, "Scores(PCA)", size=10.8, anchor="left")
note(351.5, 55, "Scores(PCA)", size=10.8, anchor="left")
note(56, 1192, "Scores(PCA)", size=10.8, anchor="left")
note(349, 1191, "Scores(PCA)", size=10.8, anchor="left")
for x, y, t in [(173, 354, "PC1 (18.8%)"), (478, 354, "PC1 (14.9%)"), (177, 1497, "PC1 (17.6%)"), (478, 1497, "PC1 (14.8%)")]:
    note(x, y, t, size=13.6)
for x, y, t in [(6.5, 196, "PC2 (10.7%)"), (316.6, 195, "PC2 (8.5%)"), (6.5, 1318, "PC2 (9.6%)"), (319, 1322, "PC2 (9.2%)")]:
    note(x, y, t, size=13.6, angle=-90)
for x, y, t in [(773, 52.7, "R2Y=0.989, Q2Y=0.814"), (1087, 51.7, "R2Y=0.999, Q2Y=0.826"), (779.5, 1193.3, "R2Y=0.996, Q2Y=0.818"), (1087, 1194, "R2Y=0.998, Q2Y=0.824")]:
    note(x, y, t, size=10.8, anchor="left")
for x, y in [(907.5, 354), (1222, 355), (907.5, 1496), (1222, 1496)]:
    note(x, y, "Similarity(y, yperm) of 200 permutations", size=13.6)
for x, y in [(170, 713), (477, 715), (167, 1891.7), (478, 1891)]:
    note(x, y, "p[1]", size=13.6)
for x, y in [(10, 558), (316, 558), (8, 1731.7), (315.6, 1733)]:
    note(x, y, "p(corr)[1]", size=13.6, angle=-90)
note(1091.7, 750, "VIP", size=12.5)
note(1100, 1912, "VIP", size=10.5)
note(452.7, 1087.7, "Zscore", size=18)
note(450, 2283, "Zscore", size=18)
note(1119, 1087, "DA", size=17.5)
note(1116.6, 2283, "DA", size=17.5)
note(1285.8, 813.3, "dam_abd", size=18)
note(1272.7, 2012.7, "dam_abd", size=18)

fig.update_layout(width=W, height=H, margin=dict(l=0, r=0, t=0, b=0), autosize=False, paper_bgcolor="white", plot_bgcolor="white",
                  showlegend=False, shapes=shapes, annotations=notes, font=dict(family=FONT), hovermode=False, **layout)
fig.write_html("out.html", post_script="document.body.style.margin='0';", config=dict(displayModeBar=False))
